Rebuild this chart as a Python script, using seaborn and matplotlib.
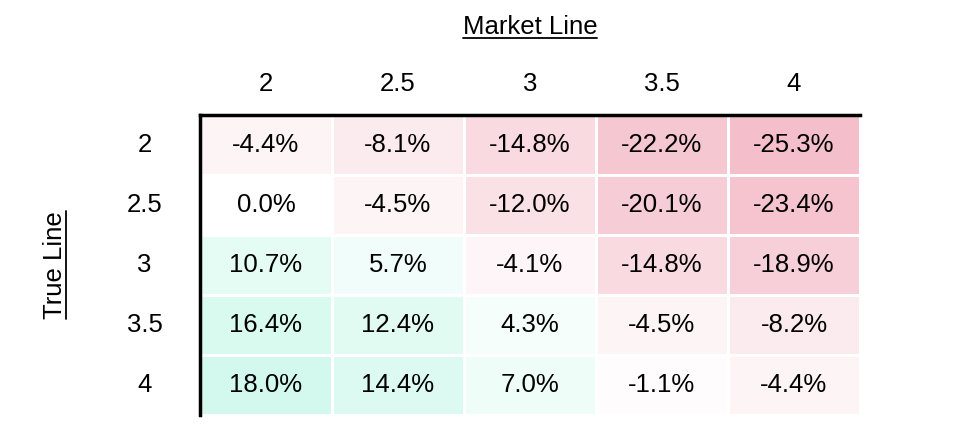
import numpy as np
import pandas as pd
import matplotlib
matplotlib.use("Agg")
import matplotlib.pyplot as plt
import seaborn as sns
from matplotlib.colors import LinearSegmentedColormap
from matplotlib.lines import Line2D

market_lines = ["2", "2.5", "3", "3.5", "4"]
true_lines = ["2", "2.5", "3", "3.5", "4"]
row_2 = [-4.4, -8.1, -14.8, -22.2, -25.3]
row_2_5 = [0.0, -4.5, -12.0, -20.1, -23.4]
row_3 = [10.7, 5.7, -4.1, -14.8, -18.9]
row_3_5 = [16.4, 12.4, 4.3, -4.5, -8.2]
row_4 = [18.0, 14.4, 7.0, -1.1, -4.4]

df = pd.DataFrame([row_2, row_2_5, row_3, row_3_5, row_4],
                  index=true_lines, columns=market_lines)
labels = df.map(lambda v: f"{v:.1f}%")

sns.set_style("white")
plt.rcParams["font.family"] = ["Liberation Sans", "DejaVu Sans"]
plt.rcParams["text.color"] = "black"
plt.rcParams["xtick.color"] = "black"
plt.rcParams["ytick.color"] = "black"

cmap = LinearSegmentedColormap.from_list("pink_mint", ["#f4bfcb", "#ffffff", "#c2f7e7"])

fig = plt.figure(figsize=(9.7, 4.46), dpi=100)
ax = fig.add_axes([200 / 970, 1 - 415 / 446, 660 / 970, 300 / 446])

sns.heatmap(df, ax=ax, cmap=cmap, vmin=-25.3, vmax=25.3, cbar=False,
            annot=labels, fmt="", linewidths=2, linecolor="white",
            annot_kws={"fontsize": 18.5, "color": "black"})

ax.xaxis.tick_top()
ax.tick_params(axis="x", length=0, pad=14, labelsize=18.5, labelcolor="black")
ax.tick_params(axis="y", length=0, pad=40, labelsize=18.5, labelcolor="black")
for t in ax.get_yticklabels():
    t.set_rotation(0)
    t.set_ha("center")

for side in ["top", "left"]:
    ax.spines[side].set_visible(True)
    ax.spines[side].set_linewidth(2.5)
    ax.spines[side].set_color("black")
for side in ["bottom", "right"]:
    ax.spines[side].set_visible(False)

ax.set_xlabel("")
ax.set_ylabel("")
xt = fig.text(530 / 970, 1 - 27 / 446, "Market Line", color="black",
              ha="center", va="center", fontsize=18.5)
yt = fig.text(55 / 970, 1 - 265 / 446, "True Line", color="black",
              ha="center", va="center", fontsize=18.5, rotation=90)

# underline both titles
fig.canvas.draw()
r = fig.canvas.get_renderer()
W, H = fig.bbox.width, fig.bbox.height
bb = xt.get_window_extent(r)
fig.add_artist(Line2D([bb.x0 / W, bb.x1 / W], [(bb.y0 + 1) / H] * 2,
                      transform=fig.transFigure, color="black", lw=1.3))
bb = yt.get_window_extent(r)
fig.add_artist(Line2D([(bb.x1 - 1) / W] * 2, [bb.y0 / H, bb.y1 / H],
                      transform=fig.transFigure, color="black", lw=1.3))

fig.savefig("out.png", dpi=100)
